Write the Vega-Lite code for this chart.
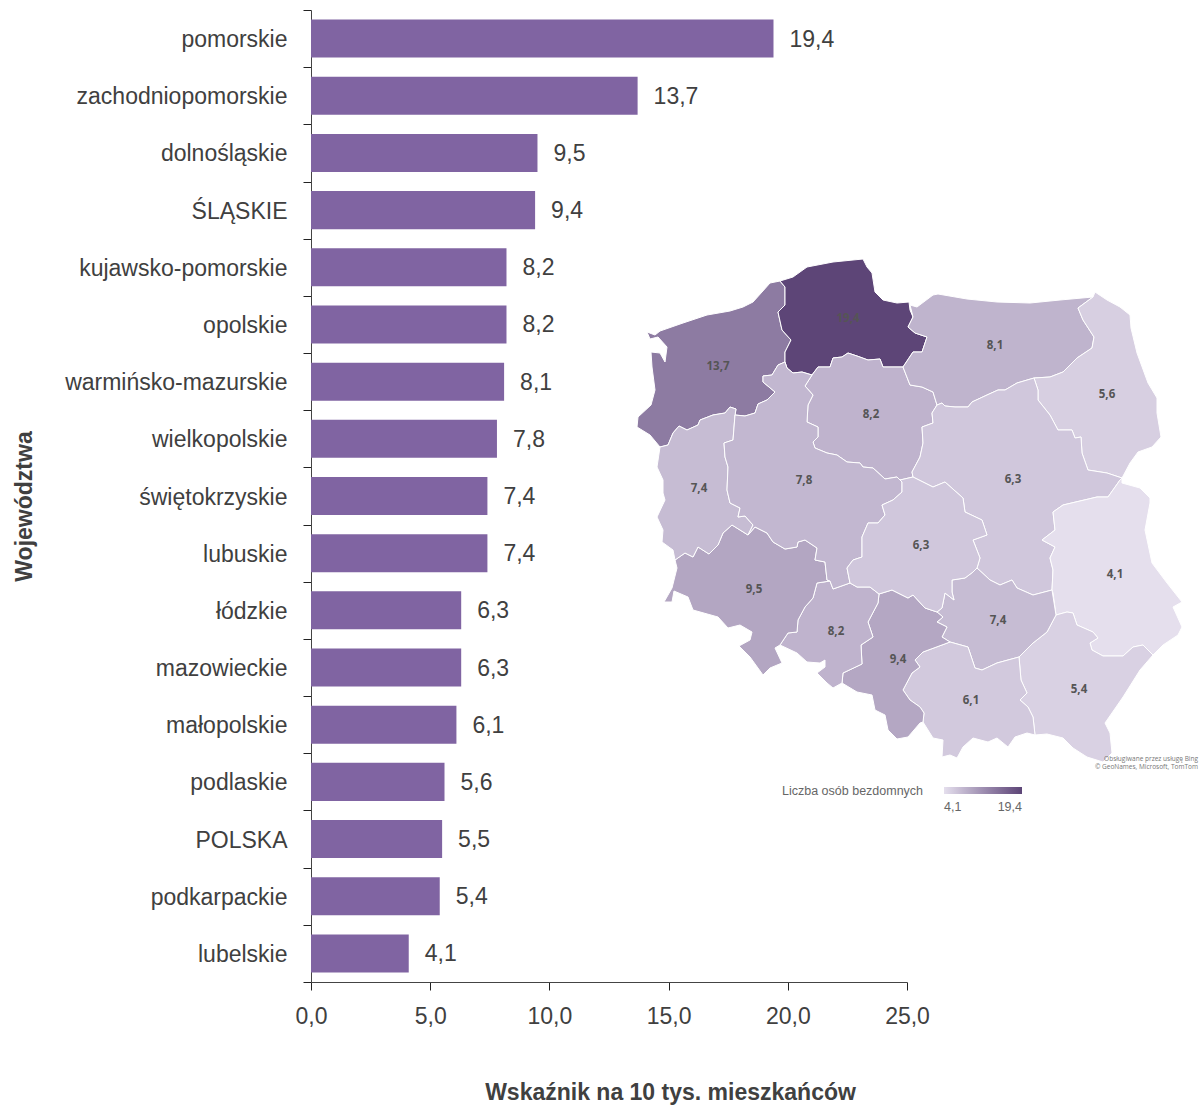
{"$schema":"https://vega.github.io/schema/vega-lite/v6.json","autosize":"none","width":596,"height":972,"padding":{"left":311,"top":10,"right":296,"bottom":128},"background":"white",
"datasets":{"bars":[
{"woj":"pomorskie","v":19.4,"t":"19,4"},{"woj":"zachodniopomorskie","v":13.7,"t":"13,7"},{"woj":"dolnośląskie","v":9.5,"t":"9,5"},{"woj":"ŚLĄSKIE","v":9.4,"t":"9,4"},{"woj":"kujawsko-pomorskie","v":8.2,"t":"8,2"},{"woj":"opolskie","v":8.2,"t":"8,2"},{"woj":"warmińsko-mazurskie","v":8.1,"t":"8,1"},{"woj":"wielkopolskie","v":7.8,"t":"7,8"},{"woj":"świętokrzyskie","v":7.4,"t":"7,4"},{"woj":"lubuskie","v":7.4,"t":"7,4"},{"woj":"łódzkie","v":6.3,"t":"6,3"},{"woj":"mazowieckie","v":6.3,"t":"6,3"},{"woj":"małopolskie","v":6.1,"t":"6,1"},{"woj":"podlaskie","v":5.6,"t":"5,6"},{"woj":"POLSKA","v":5.5,"t":"5,5"},{"woj":"podkarpackie","v":5.4,"t":"5,4"},{"woj":"lubelskie","v":4.1,"t":"4,1"}],
"maplabels":[{"t":"19,4","lon":218,"lat":451},{"t":"13,7","lon":88,"lat":403},{"t":"8,2","lon":241,"lat":355},{"t":"8,1","lon":365,"lat":424},{"t":"5,6","lon":477,"lat":375},{"t":"6,3","lon":383,"lat":290},{"t":"7,8","lon":174,"lat":289},{"t":"7,4","lon":69,"lat":281},{"t":"6,3","lon":291,"lat":224},{"t":"9,5","lon":124,"lat":180},{"t":"4,1","lon":485,"lat":195},{"t":"7,4","lon":368,"lat":149},{"t":"8,2","lon":206,"lat":138},{"t":"9,4","lon":268,"lat":110},{"t":"6,1","lon":341,"lat":69},{"t":"5,4","lon":449,"lat":80}],
"credit":[{"t":"Obsługiwane przez usługę Bing","lon":568,"lat":11},{"t":"© GeoNames, Microsoft, TomTom","lon":568,"lat":3}],
"regions":[
{"type":"Feature","properties":{"name":"zachodniopomorskie","value":13.7},"geometry":{"type":"Polygon","coordinates":[[[150,489],[140,487],[132,478],[123,468],[113,463],[100,459],[77,455],[53,447],[30,439],[25,435],[17,438],[20,431],[28,433],[37,423],[35,408],[30,417],[21,418],[22,403],[25,380],[21,365],[8,353],[7,343],[20,335],[30,323],[38,325],[43,337],[49,344],[57,340],[68,345],[70,350],[83,355],[95,357],[100,363],[106,361],[105,355],[115,354],[125,357],[128,366],[137,370],[145,378],[133,388],[133,394],[142,395],[148,405],[155,408],[155,418],[161,430],[152,440],[148,458],[155,465],[155,483],[150,489]]]}},
{"type":"Feature","properties":{"name":"pomorskie","value":19.4},"geometry":{"type":"Polygon","coordinates":[[[150,489],[163,493],[177,503],[203,508],[233,511],[237,503],[242,497],[245,478],[253,470],[267,467],[279,468],[280,460],[283,453],[278,443],[285,437],[297,433],[292,418],[283,418],[273,403],[253,403],[250,411],[238,410],[227,414],[218,417],[212,413],[203,412],[200,403],[188,403],[182,395],[172,398],[163,397],[157,402],[155,408],[155,418],[161,430],[152,440],[148,458],[155,465],[155,483],[150,489]]]}},
{"type":"Feature","properties":{"name":"kujawsko-pomorskie","value":8.2},"geometry":{"type":"Polygon","coordinates":[[[182,395],[188,403],[200,403],[203,412],[212,413],[218,417],[227,414],[238,410],[250,411],[253,403],[273,403],[280,385],[292,383],[303,378],[307,365],[302,357],[303,347],[292,343],[293,327],[290,313],[282,298],[283,293],[270,290],[267,293],[255,291],[243,302],[233,303],[230,307],[217,308],[207,315],[197,317],[185,322],[183,328],[188,333],[188,343],[177,348],[178,365],[183,375],[175,384],[182,395]]]}},
{"type":"Feature","properties":{"name":"warmińsko-mazurskie","value":8.1},"geometry":{"type":"Polygon","coordinates":[[[308,476],[337,471],[367,468],[400,467],[430,470],[463,473],[448,462],[453,450],[464,433],[462,422],[447,412],[433,398],[420,393],[404,392],[387,387],[375,380],[368,380],[357,375],[342,368],[338,363],[325,363],[315,364],[312,367],[307,365],[303,378],[292,383],[280,385],[273,403],[283,418],[292,418],[297,433],[285,437],[278,443],[283,453],[280,465],[287,463],[303,475],[308,476]]]}},
{"type":"Feature","properties":{"name":"podlaskie","value":5.6},"geometry":{"type":"Polygon","coordinates":[[[463,473],[465,478],[477,470],[490,463],[500,455],[501,442],[507,417],[518,387],[527,372],[527,357],[531,333],[522,323],[508,318],[500,307],[492,292],[477,297],[458,300],[452,317],[451,333],[445,332],[442,340],[428,340],[420,355],[408,370],[408,380],[404,392],[420,393],[433,398],[447,412],[462,422],[464,433],[453,450],[448,462],[463,473]]]}},
{"type":"Feature","properties":{"name":"mazowieckie","value":6.3},"geometry":{"type":"Polygon","coordinates":[[[404,392],[387,387],[375,380],[368,380],[357,375],[342,368],[338,363],[325,363],[315,364],[312,367],[307,365],[302,357],[303,347],[292,343],[293,327],[290,313],[282,298],[283,293],[303,283],[315,288],[333,272],[335,258],[352,250],[357,235],[343,230],[350,212],[347,202],[360,190],[370,185],[382,190],[387,182],[403,175],[422,180],[423,200],[420,212],[425,223],[412,230],[425,240],[423,258],[433,265],[467,273],[478,273],[490,290],[492,292],[477,297],[458,300],[452,317],[451,333],[445,332],[442,340],[428,340],[420,355],[408,370],[408,380],[404,392]]]}},
{"type":"Feature","properties":{"name":"lubelskie","value":4.1},"geometry":{"type":"Polygon","coordinates":[[[492,292],[492,287],[510,282],[520,272],[520,267],[515,240],[522,207],[537,187],[552,168],[543,163],[552,143],[548,135],[533,125],[523,115],[513,125],[503,123],[493,114],[473,114],[462,120],[460,127],[468,132],[463,138],[447,145],[443,157],[437,158],[426,155],[423,177],[422,180],[423,200],[420,212],[425,223],[412,230],[425,240],[423,258],[433,265],[467,273],[478,273],[490,290],[492,292]]]}},
{"type":"Feature","properties":{"name":"podkarpackie","value":5.4},"geometry":{"type":"Polygon","coordinates":[[[426,155],[437,158],[443,157],[447,145],[463,138],[468,132],[460,127],[462,120],[473,114],[493,114],[503,123],[513,125],[523,115],[510,100],[493,73],[475,47],[480,37],[482,17],[473,8],[457,13],[443,22],[433,32],[417,36],[405,35],[403,53],[398,63],[390,70],[397,77],[391,90],[389,113],[403,127],[417,138],[426,155]]]}},
{"type":"Feature","properties":{"name":"świętokrzyskie","value":7.4},"geometry":{"type":"Polygon","coordinates":[[[422,180],[403,175],[387,182],[382,190],[370,185],[360,190],[347,202],[343,198],[335,192],[322,190],[322,178],[324,170],[315,177],[312,162],[307,158],[313,153],[307,148],[317,143],[312,133],[320,128],[338,123],[345,102],[352,100],[367,107],[389,113],[403,127],[417,138],[426,155],[422,180]]]}},
{"type":"Feature","properties":{"name":"małopolskie","value":6.1},"geometry":{"type":"Polygon","coordinates":[[[320,128],[338,123],[345,102],[352,100],[367,107],[389,113],[391,90],[397,77],[390,70],[398,63],[403,53],[405,35],[397,37],[385,33],[378,23],[367,32],[358,28],[343,32],[333,23],[327,12],[320,15],[312,13],[313,30],[303,32],[293,48],[294,57],[290,63],[280,70],[273,80],[282,97],[290,103],[285,110],[293,118],[320,128]]]}},
{"type":"Feature","properties":{"name":"śląskie","value":9.4},"geometry":{"type":"Polygon","coordinates":[[[249,176],[262,180],[278,172],[283,175],[295,162],[307,158],[313,153],[307,148],[317,143],[312,133],[320,128],[293,118],[285,110],[290,103],[282,97],[273,80],[280,70],[290,63],[294,57],[293,48],[290,47],[278,33],[267,31],[258,40],[255,55],[245,60],[242,75],[227,78],[212,87],[213,97],[232,106],[231,125],[243,133],[238,148],[248,167],[249,176]]]}},
{"type":"Feature","properties":{"name":"opolskie","value":8.2},"geometry":{"type":"Polygon","coordinates":[[[249,176],[240,183],[227,183],[220,187],[203,181],[200,189],[187,187],[183,172],[175,163],[168,150],[167,138],[158,137],[150,125],[167,117],[177,108],[190,107],[195,110],[195,103],[187,97],[197,87],[203,82],[212,87],[213,97],[232,106],[231,125],[243,133],[238,148],[248,167],[249,176]]]}},
{"type":"Feature","properties":{"name":"dolnośląskie","value":9.5},"geometry":{"type":"Polygon","coordinates":[[[200,189],[197,190],[195,208],[185,210],[187,222],[175,230],[168,228],[167,223],[155,221],[143,228],[137,237],[125,243],[118,235],[102,245],[93,237],[88,225],[79,216],[68,223],[63,213],[55,217],[45,210],[47,202],[42,182],[34,168],[42,168],[44,179],[58,173],[63,160],[88,153],[98,142],[110,145],[122,138],[120,130],[109,124],[120,113],[133,95],[140,102],[152,107],[145,122],[150,125],[158,137],[167,138],[168,150],[175,163],[183,172],[187,187],[200,189]]]}},
{"type":"Feature","properties":{"name":"lubuskie","value":7.4},"geometry":{"type":"Polygon","coordinates":[[[30,323],[27,303],[33,290],[33,277],[35,270],[27,253],[33,240],[32,228],[43,220],[45,210],[55,217],[63,213],[68,223],[79,216],[88,225],[93,237],[102,245],[118,235],[123,245],[115,254],[108,253],[110,262],[100,267],[97,280],[98,303],[95,313],[94,327],[103,330],[105,355],[106,361],[100,363],[95,357],[83,355],[70,350],[68,345],[57,340],[49,344],[43,337],[38,325],[30,323]]]}},
{"type":"Feature","properties":{"name":"wielkopolskie","value":7.8},"geometry":{"type":"Polygon","coordinates":[[[155,408],[157,402],[163,397],[172,398],[182,395],[175,384],[183,375],[178,365],[177,348],[188,343],[188,333],[183,328],[185,322],[197,317],[207,315],[217,308],[230,307],[233,303],[243,302],[255,291],[267,293],[270,290],[272,288],[272,278],[263,270],[252,265],[255,255],[248,247],[238,247],[232,233],[232,213],[223,210],[217,202],[220,187],[203,181],[200,189],[197,190],[195,208],[185,210],[187,222],[175,230],[168,228],[167,223],[155,221],[143,228],[137,237],[125,243],[118,235],[123,245],[115,254],[108,253],[110,262],[100,267],[97,280],[98,303],[95,313],[94,327],[103,330],[105,355],[115,354],[125,357],[128,366],[137,370],[145,378],[133,388],[133,394],[142,395],[148,405],[155,408]]]}},
{"type":"Feature","properties":{"name":"łódzkie","value":6.3},"geometry":{"type":"Polygon","coordinates":[[[220,187],[217,202],[223,210],[232,213],[232,233],[238,247],[248,247],[255,255],[252,265],[263,270],[272,278],[272,288],[270,290],[283,293],[303,283],[315,288],[333,272],[335,258],[352,250],[357,235],[343,230],[350,212],[347,202],[343,198],[335,192],[322,190],[322,178],[324,170],[315,177],[312,162],[307,158],[295,162],[283,175],[278,172],[262,180],[249,176],[240,183],[227,183],[220,187]]]}}
]},
"layer":[
{"data":{"name":"bars"},"mark":{"type":"bar","color":"#8064a2","height":{"band":0.665}},
"encoding":{
"y":{"field":"woj","type":"nominal","sort":null,"scale":{"paddingInner":0,"paddingOuter":0},
"axis":{"title":"Województwa","titleFont":"Liberation Sans","titleFontSize":23,"titleFontWeight":"bold","titleColor":"#404040","titleX":-287,"titleY":496,"titleAngle":270,"titleAlign":"center","titleBaseline":"middle","labelFont":"Liberation Sans","labelFontSize":23,"labelColor":"#404040","labelPadding":16,"labelOffset":1,"tickBand":"extent","tickSize":8,"tickColor":"#222222","domainColor":"#444444","labelLimit":300,"grid":false}},
"x":{"field":"v","type":"quantitative","scale":{"domain":[0,25],"nice":false},
"axis":{"title":"Wskaźnik na 10 tys. mieszkańców","titleFont":"Liberation Sans","titleFontSize":23,"titleFontWeight":"bold","titleColor":"#404040","titleX":359,"titleY":110,"titleAlign":"center","titleBaseline":"middle","values":[0,5,10,15,20,25],"labelExpr":"replace(format(datum.value,'.1f'),'.',',')","labelFlush":false,"labelFont":"Liberation Sans","labelFontSize":23,"labelColor":"#404040","labelPadding":15,"tickSize":8,"tickColor":"#222222","domainColor":"#444444","grid":false}}}},
{"data":{"name":"bars"},"mark":{"type":"text","align":"left","baseline":"middle","dx":16,"dy":1,"font":"Liberation Sans","fontSize":23,"color":"#404040"},
"encoding":{"y":{"field":"woj","type":"nominal","sort":null},"x":{"field":"v","type":"quantitative","scale":{"domain":[0,25],"nice":false}},"text":{"field":"t"}}},
{"data":{"name":"regions"},"projection":{"type":"identity","reflectY":true,"scale":1,"translate":[319,760]},"mark":{"type":"geoshape","stroke":"white","strokeWidth":1,"clip":false},
"encoding":{"color":{"field":"properties.value","type":"quantitative","scale":{"domain":[4.1,19.4],"range":["#e5dfed","#5d4577"]},
"legend":{"title":"Liczba osób bezdomnych","orient":"none","legendX":471,"legendY":777,"direction":"horizontal","titleOrient":"left","titleFont":"Liberation Sans","titleFontSize":12.5,"titleFontWeight":"normal","titleColor":"#666666","titlePadding":20,"gradientLength":78,"gradientThickness":7,"values":[4.1,19.4],"labelExpr":"replace(format(datum.value,'.1f'),'.',',')","labelAlign":"center","labelFont":"Liberation Sans","labelFontSize":12.5,"labelColor":"#666666","labelOffset":7}}}},
{"data":{"name":"maplabels"},"projection":{"type":"identity","reflectY":true,"scale":1,"translate":[319,760]},"mark":{"type":"text","font":"Open Sans","fontWeight":"bold","fontSize":11.5,"color":"#555555","baseline":"middle","clip":false},
"encoding":{"longitude":{"field":"lon","type":"quantitative"},"latitude":{"field":"lat","type":"quantitative"},"text":{"field":"t"}}},
{"data":{"name":"credit"},"projection":{"type":"identity","reflectY":true,"scale":1,"translate":[319,760]},"mark":{"type":"text","font":"Open Sans","fontSize":6.5,"color":"#777777","align":"right","baseline":"middle","clip":false},
"encoding":{"longitude":{"field":"lon","type":"quantitative"},"latitude":{"field":"lat","type":"quantitative"},"text":{"field":"t"}}}
],
"config":{"view":{"stroke":null}}}
